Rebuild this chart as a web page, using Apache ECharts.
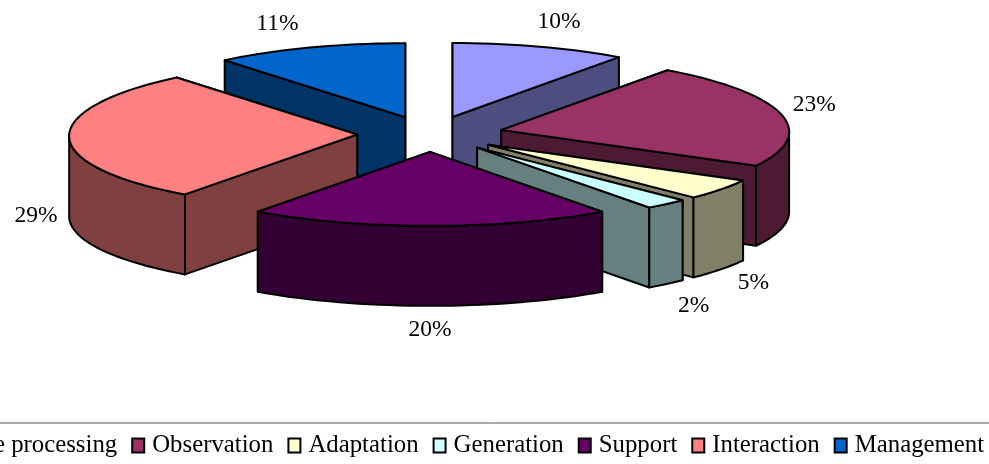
<!DOCTYPE html>
<html><head><meta charset="utf-8">
<style>html,body{margin:0;padding:0;background:#fff}#c{width:989px;height:464px}</style>
<script src="https://cdn.jsdelivr.net/npm/echarts@6/dist/echarts.min.js"></script>
</head><body><div id="c"></div>
<script>
const categories = ['Image processing','Observation','Adaptation','Generation','Support','Interaction','Management'];
const values = [10,23,4.6,2.4,20,29,11];
const topColors = ['#9999FF','#993366','#FFFFCC','#CCFFFF','#660066','#FF8080','#0066CC'];
const sideColors = ['#4D4D80','#4D1A33','#808066','#668080','#330033','#804040','#003366'];
const paintRank = [0,2,4,5,6,3,1];
const labelNudgeX = [-3,-6,-3,-5,0,7,-9];
const labelNudgeY = [0,-3,0,5,2,-2,1];

const CX=430, CY=134, RX=288, RY=74, DEPTH=80, EXPLODE_X=0.253, EXPLODE_Y=0.241, PERSPECTIVE=0.021;
const FONT='23.5px "Liberation Serif"';
const total = values.reduce((a,b)=>a+b,0);
const rad = d => d*Math.PI/180;

function sliceItem(idx, value){
  const before = values.slice(0,idx).reduce((a,b)=>a+b,0);
  const a0 = before/total*360, a1 = (before+value)/total*360, mid=(a0+a1)/2;
  const ax = CX+EXPLODE_X*RX*Math.sin(rad(mid)), ay = CY-EXPLODE_Y*RY*Math.cos(rad(mid));
  const pt = (t,d=0)=>[ax+RX*Math.sin(rad(t))*(1-PERSPECTIVE*Math.cos(rad(t))), ay-RY*Math.cos(rad(t))+d];
  const arc = (s,e,d=0)=>{const out=[];const n=Math.max(2,Math.ceil((e-s)/2));
    for(let i=0;i<=n;i++) out.push(pt(s+(e-s)*i/n,d)); return out;};
  const base = paintRank[idx]*10;
  const lineStyle = c=>({fill:c,stroke:'#000',lineWidth:2,lineJoin:'round'});
  const faces = [];
  [a0,a1].forEach(t=>{
    const p=pt(t);
    const poly=[[ax,ay],p,[p[0],p[1]+DEPTH],[ax,ay+DEPTH]];
    faces.push({my:(ay+p[1])/2, poly});
  });
  const rs=Math.max(a0,90), re=Math.min(a1,270);
  if(re>rs){
    const poly=arc(rs,re).concat(arc(rs,re,DEPTH).reverse());
    faces.push({my:1e6, poly});
  }
  faces.sort((p,q)=>p.my-q.my);
  const children = faces.map((f,i)=>({type:'polygon',z2:base+i,shape:{points:f.poly},style:lineStyle(sideColors[idx])}));
  children.push({type:'polygon',z2:base+8,shape:{points:[[ax,ay]].concat(arc(a0,a1))},style:lineStyle(topColors[idx])});
  const s=Math.sin(rad(mid)), c=Math.cos(rad(mid)), rim=pt(mid);
  const lx=rim[0]+40*Math.sign(s)*Math.sqrt(Math.abs(s))+labelNudgeX[idx];
  const ly=(c>=0 ? rim[1]-26*c : rim[1]+DEPTH+22*Math.abs(c))+labelNudgeY[idx];
  children.push({type:'text',z2:200,style:{x:lx,y:ly,text:Math.round(value)+'%',font:FONT,fill:'#000',align:'center',verticalAlign:'middle'}});
  return {type:'group',children};
}

const chart = echarts.init(document.getElementById('c'),null,{renderer:'canvas'});
chart.setOption({
  animation:false,
  backgroundColor:'#fff',
  legend:{
    data:categories, icon:'rect', left:-88, top:423, width:1400, orient:'horizontal',
    padding:[10,80,50,10], itemGap:14, itemWidth:12, itemHeight:14,
    borderColor:'#555', borderWidth:1,
    itemStyle:{borderColor:'#000',borderWidth:2},
    textStyle:{fontFamily:'Liberation Serif',fontSize:24.8,color:'#000',padding:[0,0,0,3]},
    selectedMode:false
  },
  series:categories.map((name,i)=>({
    type:'custom', name, coordinateSystem:'none', silent:true,
    itemStyle:{color:topColors[i]},
    data:[values[i]],
    renderItem:(p,api)=>sliceItem(i,api.value(0))
  }))
});
</script></body></html>
